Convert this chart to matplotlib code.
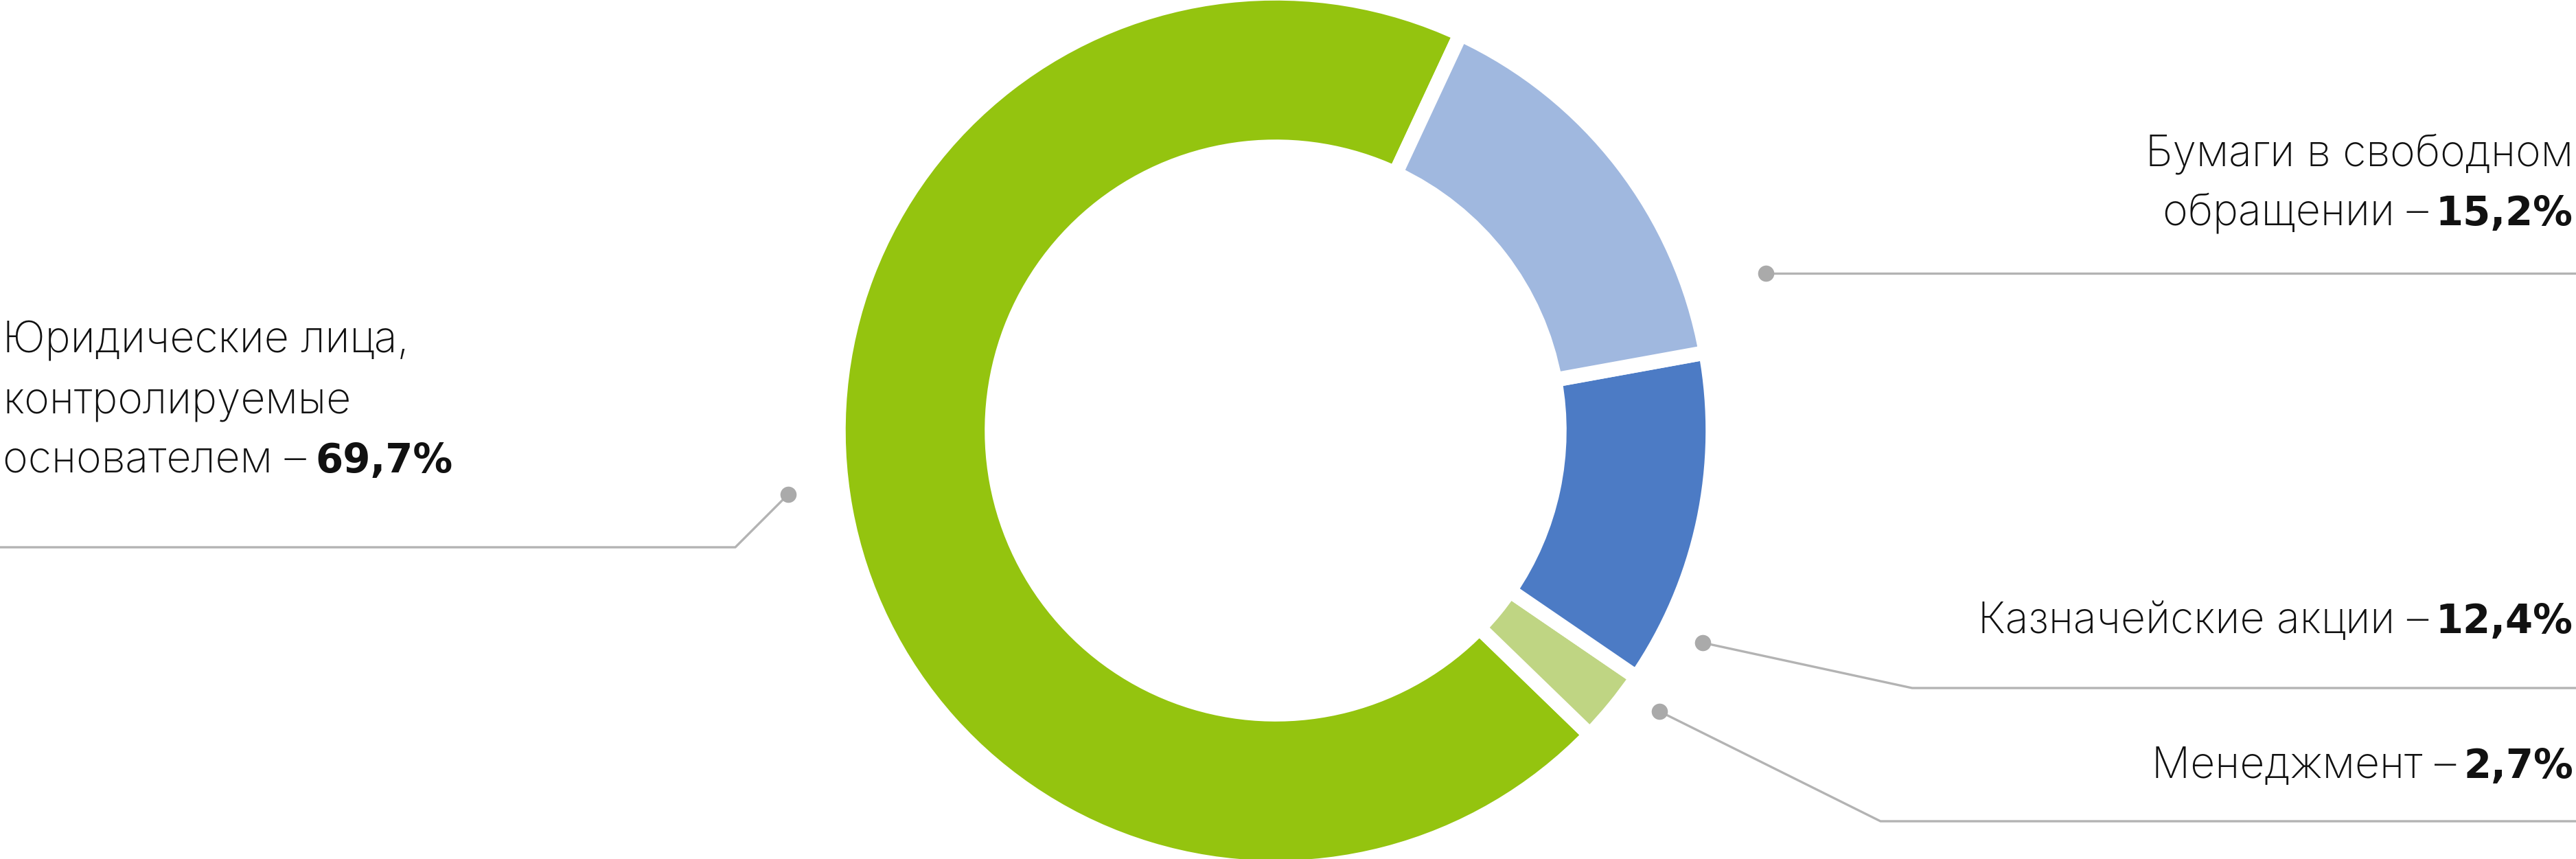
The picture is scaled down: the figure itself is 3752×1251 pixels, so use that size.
import matplotlib
matplotlib.use("Agg")
import matplotlib.pyplot as plt

# data
shares = [69.7, 2.7, 12.4, 15.2]
colors = ["#94c40f", "#bfd583", "#4c7bc5", "#a0b8df"]

W, H = 3752, 1251
fig = plt.figure(figsize=(W / 100, H / 100), dpi=100)
ax = fig.add_axes([0, 0, 1, 1])
ax.set_xlim(0, W)
ax.set_ylim(0, H)
ax.axis("off")

# donut
ax.pie(shares, colors=colors, startangle=65, counterclock=True,
       center=(1858, H - 627), radius=637,
       wedgeprops=dict(width=224, edgecolor="white", linewidth=15.5))
ax.set_xlim(0, W)
ax.set_ylim(0, H)
ax.set_aspect("equal")

fam = ["Inter", "DejaVu Sans"]
bfam = ["DejaVu Sans"]
fs = 45
bfs = 41.5
line_c = "#b3b3b3"
dot_c = "#aaaaaa"


def leader(pts):
    xs = [p[0] for p in pts]
    ys = [H - p[1] for p in pts]
    ax.plot(xs, ys, color=line_c, lw=2.4, solid_capstyle="butt", zorder=3)
    ax.plot(xs[0], ys[0], "o", ms=17, color=dot_c, mec="none", zorder=4)


leader([(1148, 720), (1071, 797), (0, 797)])
leader([(2572, 398), (3752, 398)])
leader([(2480, 936), (2785, 1002), (3752, 1002)])
leader([(2417, 1036), (2739, 1196), (3752, 1196)])


def txt(x, y, s, **kw):
    return ax.text(x, H - y, s, fontsize=fs, family=fam, va="baseline",
                   color="#111111", fontweight="light", **kw)


def right_label(y, normal, bold):
    b = ax.text(3748, H - y, bold, ha="right", va="baseline", fontsize=bfs,
                family=bfam, fontweight="bold", color="#111111")
    ax.annotate(normal, xy=(0, H - y), xycoords=(b, "data"),
                xytext=(-8, 0), textcoords="offset points",
                ha="right", va="baseline", fontsize=fs, family=fam,
                fontweight="light", color="#111111")


# left label
txt(4, 514, "Юридические лица,", ha="left")
txt(4, 601, "контролируемые", ha="left")
n = txt(4, 688, "основателем –", ha="left")
ax.annotate("69,7%", xy=(1, H - 688), xycoords=(n, "data"),
            xytext=(10, 0), textcoords="offset points",
            ha="left", va="baseline", fontsize=bfs, family=bfam,
            fontweight="bold", color="#111111")

# right labels
txt(3748, 242, "Бумаги в свободном", ha="right")
right_label(328, "обращении –", "15,2%")
right_label(922, "Казначейские акции –", "12,4%")
right_label(1133, "Менеджмент –", "2,7%")

fig.savefig("out.png", dpi=100, facecolor="white")
